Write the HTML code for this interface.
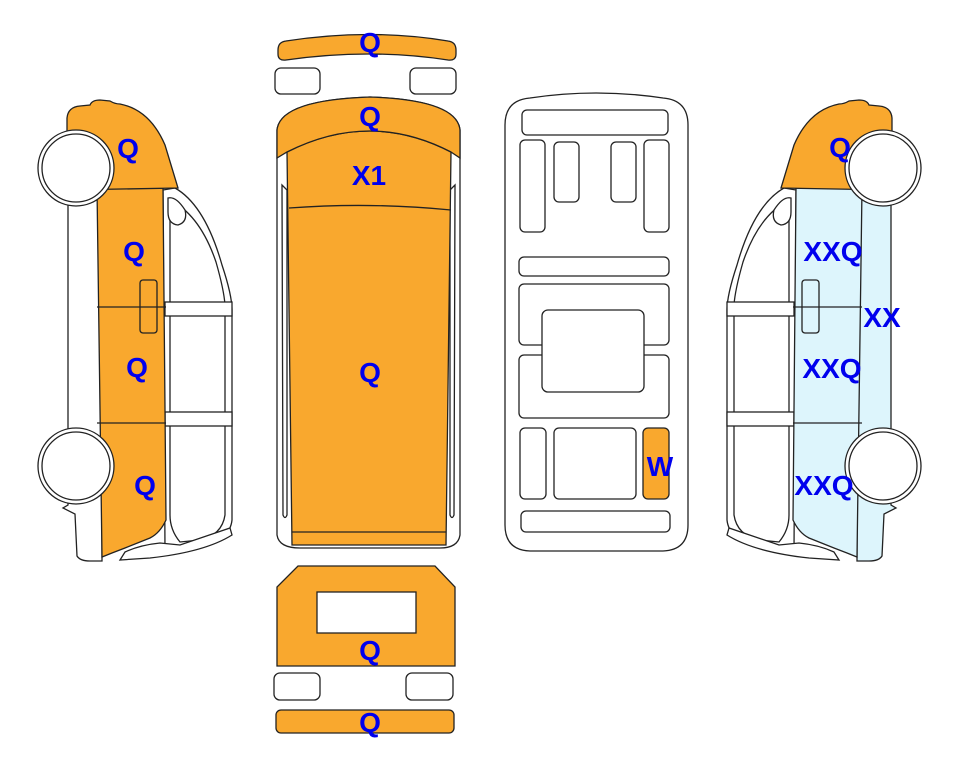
<!DOCTYPE html>
<html><head><meta charset="utf-8"><style>
html,body{margin:0;padding:0;background:#fff;width:963px;height:768px;overflow:hidden}
text{font-family:"Liberation Sans",Arial,sans-serif;font-weight:bold;font-size:28px;fill:#0000EE;text-anchor:middle}
</style></head><body>
<svg width="963" height="768" viewBox="0 0 963 768" xmlns="http://www.w3.org/2000/svg">
<g stroke="#222" stroke-width="1.3">
  <path d="M68,190 L68,505 L63,508 L75,514 L77,556 Q80,561 90,561 L102,561 L102,188 Z" fill="#fff"/>
  <path d="M163,190 L175,188 Q205,205 222,265 Q232,295 232,310 L232,520 Q230,540 200,548 L165,552 Z" fill="#fff"/>
  <path d="M170,200 Q200,215 216,262 Q224,290 225,305 L225,515 Q222,535 200,540 L180,542 Q170,530 170,515 Z" fill="#fff"/>
  <path d="M168,198 Q176,196 185,210 Q188,222 178,225 Q168,224 168,212 Z" fill="#fff"/>
  <rect x="165" y="302" width="67" height="14" fill="#fff"/>
  <rect x="165" y="412" width="67" height="14" fill="#fff"/>
  <path d="M125,552 Q140,545 160,543 L180,545 L230,528 L232,535 Q205,552 150,558 L120,560 Z" fill="#fff"/>
  <path d="M97,188 L163,188 L166,520 Q160,533 150,538 L125,548 L112,553 L102,557 Z" fill="#F9A82E"/>
  <line x1="97" y1="307" x2="166" y2="307"/>
  <line x1="97" y1="423" x2="166" y2="423"/>
  <rect x="140" y="280" width="17" height="53" rx="3" fill="none"/>
  <path d="M67,190 L67,118 Q68,107 80,106 L90,105 Q92,100 100,100 L110,101 Q115,104 120,104 Q150,110 165,145 L178,188 Z" fill="#F9A82E"/>
  <circle cx="76" cy="168" r="38" fill="#fff"/>
  <circle cx="76" cy="168" r="34" fill="#fff"/>
  <circle cx="76" cy="466" r="38" fill="#fff"/>
  <circle cx="76" cy="466" r="34" fill="#fff"/>
</g>
<g stroke="#222" stroke-width="1.3" transform="translate(959,0) scale(-1,1)">
  <path d="M68,190 L68,505 L63,508 L75,514 L77,556 Q80,561 90,561 L102,561 L102,188 Z" fill="#DDF5FC"/>
  <path d="M163,190 L175,188 Q205,205 222,265 Q232,295 232,310 L232,520 Q230,540 200,548 L165,552 Z" fill="#fff"/>
  <path d="M170,200 Q200,215 216,262 Q224,290 225,305 L225,515 Q222,535 200,540 L180,542 Q170,530 170,515 Z" fill="#fff"/>
  <path d="M168,198 Q176,196 185,210 Q188,222 178,225 Q168,224 168,212 Z" fill="#fff"/>
  <rect x="165" y="302" width="67" height="14" fill="#fff"/>
  <rect x="165" y="412" width="67" height="14" fill="#fff"/>
  <path d="M125,552 Q140,545 160,543 L180,545 L230,528 L232,535 Q205,552 150,558 L120,560 Z" fill="#fff"/>
  <path d="M97,188 L163,188 L166,520 Q160,533 150,538 L125,548 L112,553 L102,557 Z" fill="#DDF5FC"/>
  <line x1="97" y1="307" x2="166" y2="307"/>
  <line x1="97" y1="423" x2="166" y2="423"/>
  <rect x="140" y="280" width="17" height="53" rx="3" fill="none"/>
  <path d="M67,190 L67,118 Q68,107 80,106 L90,105 Q92,100 100,100 L110,101 Q115,104 120,104 Q150,110 165,145 L178,188 Z" fill="#F9A82E"/>
  <circle cx="76" cy="168" r="38" fill="#fff"/>
  <circle cx="76" cy="168" r="34" fill="#fff"/>
  <circle cx="76" cy="466" r="38" fill="#fff"/>
  <circle cx="76" cy="466" r="34" fill="#fff"/>
</g>

<g stroke="#222" stroke-width="1.3">
<path d="M278,50 Q278,42 286,41 Q370,28 448,41 Q456,42 456,50 L456,54 Q456,61 448,60 Q370,48 286,60 Q278,61 278,54 Z" fill="#F9A82E"/>
<rect x="275" y="68" width="45" height="26" rx="6" fill="#fff"/>
<rect x="410" y="68" width="46" height="26" rx="6" fill="#fff"/>
<path d="M277,130 Q280,100 370,97 Q457,100 460,130 L460,535 Q458,548 440,548 L300,548 Q279,548 277,535 Z" fill="#fff"/>
<path d="M282,185 L283,515 Q285,520 287,515 L287,190 Z" fill="#fff"/>
<path d="M455,185 L454,515 Q452,520 450,515 L450,190 Z" fill="#fff"/>
<path d="M287,152 Q370,110 451,152 L446,545 L292,545 Z" fill="#F9A82E"/>
<path d="M277,158 L277,130 Q280,100 370,97 Q457,100 460,130 L460,158 L451,152 Q370,110 287,152 Z" fill="#F9A82E"/>
<path d="M289,208 Q370,202 451,210" fill="none"/>
<line x1="292" y1="532" x2="446" y2="532"/>
<path d="M298,566 L435,566 L455,587 L455,666 L277,666 L277,587 Z" fill="#F9A82E"/>
<rect x="317" y="592" width="99" height="41" fill="#fff"/>
<rect x="274" y="673" width="46" height="27" rx="6" fill="#fff"/>
<rect x="406" y="673" width="47" height="27" rx="6" fill="#fff"/>
<rect x="276" y="710" width="178" height="23" rx="5" fill="#F9A82E"/>
<path d="M505,125 Q505,100 530,98 Q596,88 663,98 Q688,100 688,125 L688,525 Q688,550 663,551 L530,551 Q505,550 505,525 Z" fill="#fff"/>
<g fill="#fff">
<rect x="522" y="110" width="146" height="25" rx="5"/>
<rect x="520" y="140" width="25" height="92" rx="5"/>
<rect x="554" y="142" width="25" height="60" rx="5"/>
<rect x="611" y="142" width="25" height="60" rx="5"/>
<rect x="644" y="140" width="25" height="92" rx="5"/>
<rect x="519" y="257" width="150" height="19" rx="5"/>
<rect x="519" y="284" width="150" height="61" rx="5"/>
<rect x="519" y="355" width="150" height="63" rx="5"/>
<rect x="542" y="310" width="102" height="82" rx="6"/>
<rect x="520" y="428" width="26" height="71" rx="5"/>
<rect x="554" y="428" width="82" height="71" rx="5"/>
<rect x="521" y="511" width="149" height="21" rx="5"/>
</g>
<rect x="643" y="428" width="26" height="71" rx="5" fill="#F9A82E"/>
</g>

<text x="128" y="158">Q</text>
<text x="134" y="261">Q</text>
<text x="137" y="377">Q</text>
<text x="145" y="495">Q</text>
<text x="370" y="52">Q</text>
<text x="370" y="126">Q</text>
<text x="369" y="185">X1</text>
<text x="370" y="382">Q</text>
<text x="370" y="660">Q</text>
<text x="370" y="732">Q</text>
<text x="660" y="476">W</text>
<text x="840" y="157">Q</text>
<text x="833" y="261">XXQ</text>
<text x="882" y="327">XX</text>
<text x="832" y="378">XXQ</text>
<text x="824" y="495">XXQ</text>
</svg>
</body></html>
